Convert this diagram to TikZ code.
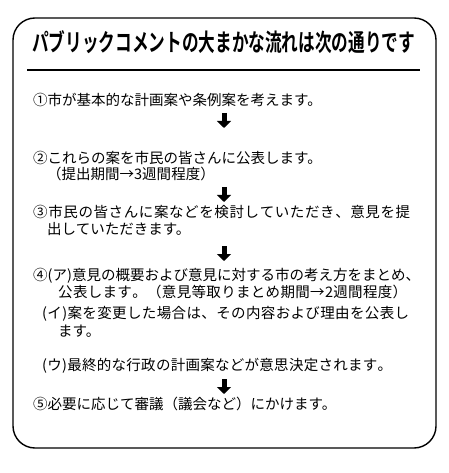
\documentclass[tikz,border=0pt]{standalone}
\usepackage{fontspec}
\setmainfont{Noto Sans CJK JP}[BoldFont={Noto Sans CJK JP Bold}]
\usetikzlibrary{arrows.meta,positioning,calc}

% spread the characters of a line over a fixed width
\def\spreadline#1{\spreadfirst#1\relax}
\def\spreadfirst#1{#1\spreadrest}
\def\spreadrest#1{\ifx#1\relax\else\hfil#1\expandafter\spreadrest\fi}
\newcommand\fullline[2]{\hbox to #1{\spreadline{#2}}}

\begin{document}
\begin{tikzpicture}[
x=1bp, y=-1bp,
frame/.style={draw, line width=1.4bp, rounded corners=22bp},
item/.style={anchor=base west, inner sep=0pt, font=\fontsize{14.5bp}{16bp}\selectfont},
flowarrow/.style={line width=5bp, -{Triangle[width=14bp,length=7bp]}}
]
\useasboundingbox (0,0) rectangle (449,473);
\draw[frame] (13,18) rectangle (436,448);

% title and rule
\node[anchor=base west, inner sep=0pt, font=\fontsize{20bp}{22bp}\selectfont\bfseries] (title) at (32,52)
  {\resizebox{383bp}{21bp}{パブリックコメントの大まかな流れは次の通りです}};
\coordinate (ruleL) at (27,70);
\coordinate (ruleR) at (420,70);
\draw[line width=1.2bp] (ruleL) -- (ruleR);

% steps
\node[item] (s1) at (33,106) {①市が基本的な計画案や条例案を考えます。};
\node[item] (s2) at (33,164) {②これらの案を市民の皆さんに公表します。};
\node[item] (s2b) at (47,180) {（提出期間→3週間程度）};
\node[item] (s3) at (33,218) {\fullline{377bp}{③市民の皆さんに案などを検討していただき、意見を提}};
\node[item] (s3b) at (47,235) {出していただきます。};
\node[item] (s4) at (33,280) {\fullline{377bp}{④(ア)意見の概要および意見に対する市の考え方をまとめ、}};
\node[item] (s4b) at (58,297) {\fullline{349bp}{公表します。（意見等取りまとめ期間→2週間程度）}};
\node[item] (s4i) at (42,318) {\fullline{367bp}{(イ)案を変更した場合は、その内容および理由を公表し}};
\node[item] (s4ib) at (58,336) {ます。};
\node[item] (s4u) at (42,370) {\fullline{350bp}{(ウ)最終的な行政の計画案などが意思決定されます。}};
\node[item] (s5) at (33,409) {⑤必要に応じて審議（議会など）にかけます。};

% arrows between steps
\coordinate (a1) at (224,113);
\coordinate (a1e) at (224,128);
\coordinate (a2) at (224,187);
\coordinate (a2e) at (224,202);
\coordinate (a3) at (224,246);
\coordinate (a3e) at (224,261);
\coordinate (a4) at (224,379);
\coordinate (a4e) at (224,394);
\foreach \a in {a1,a2,a3,a4}
  \draw[flowarrow] (\a) -- (\a e);
\end{tikzpicture}
\end{document}
